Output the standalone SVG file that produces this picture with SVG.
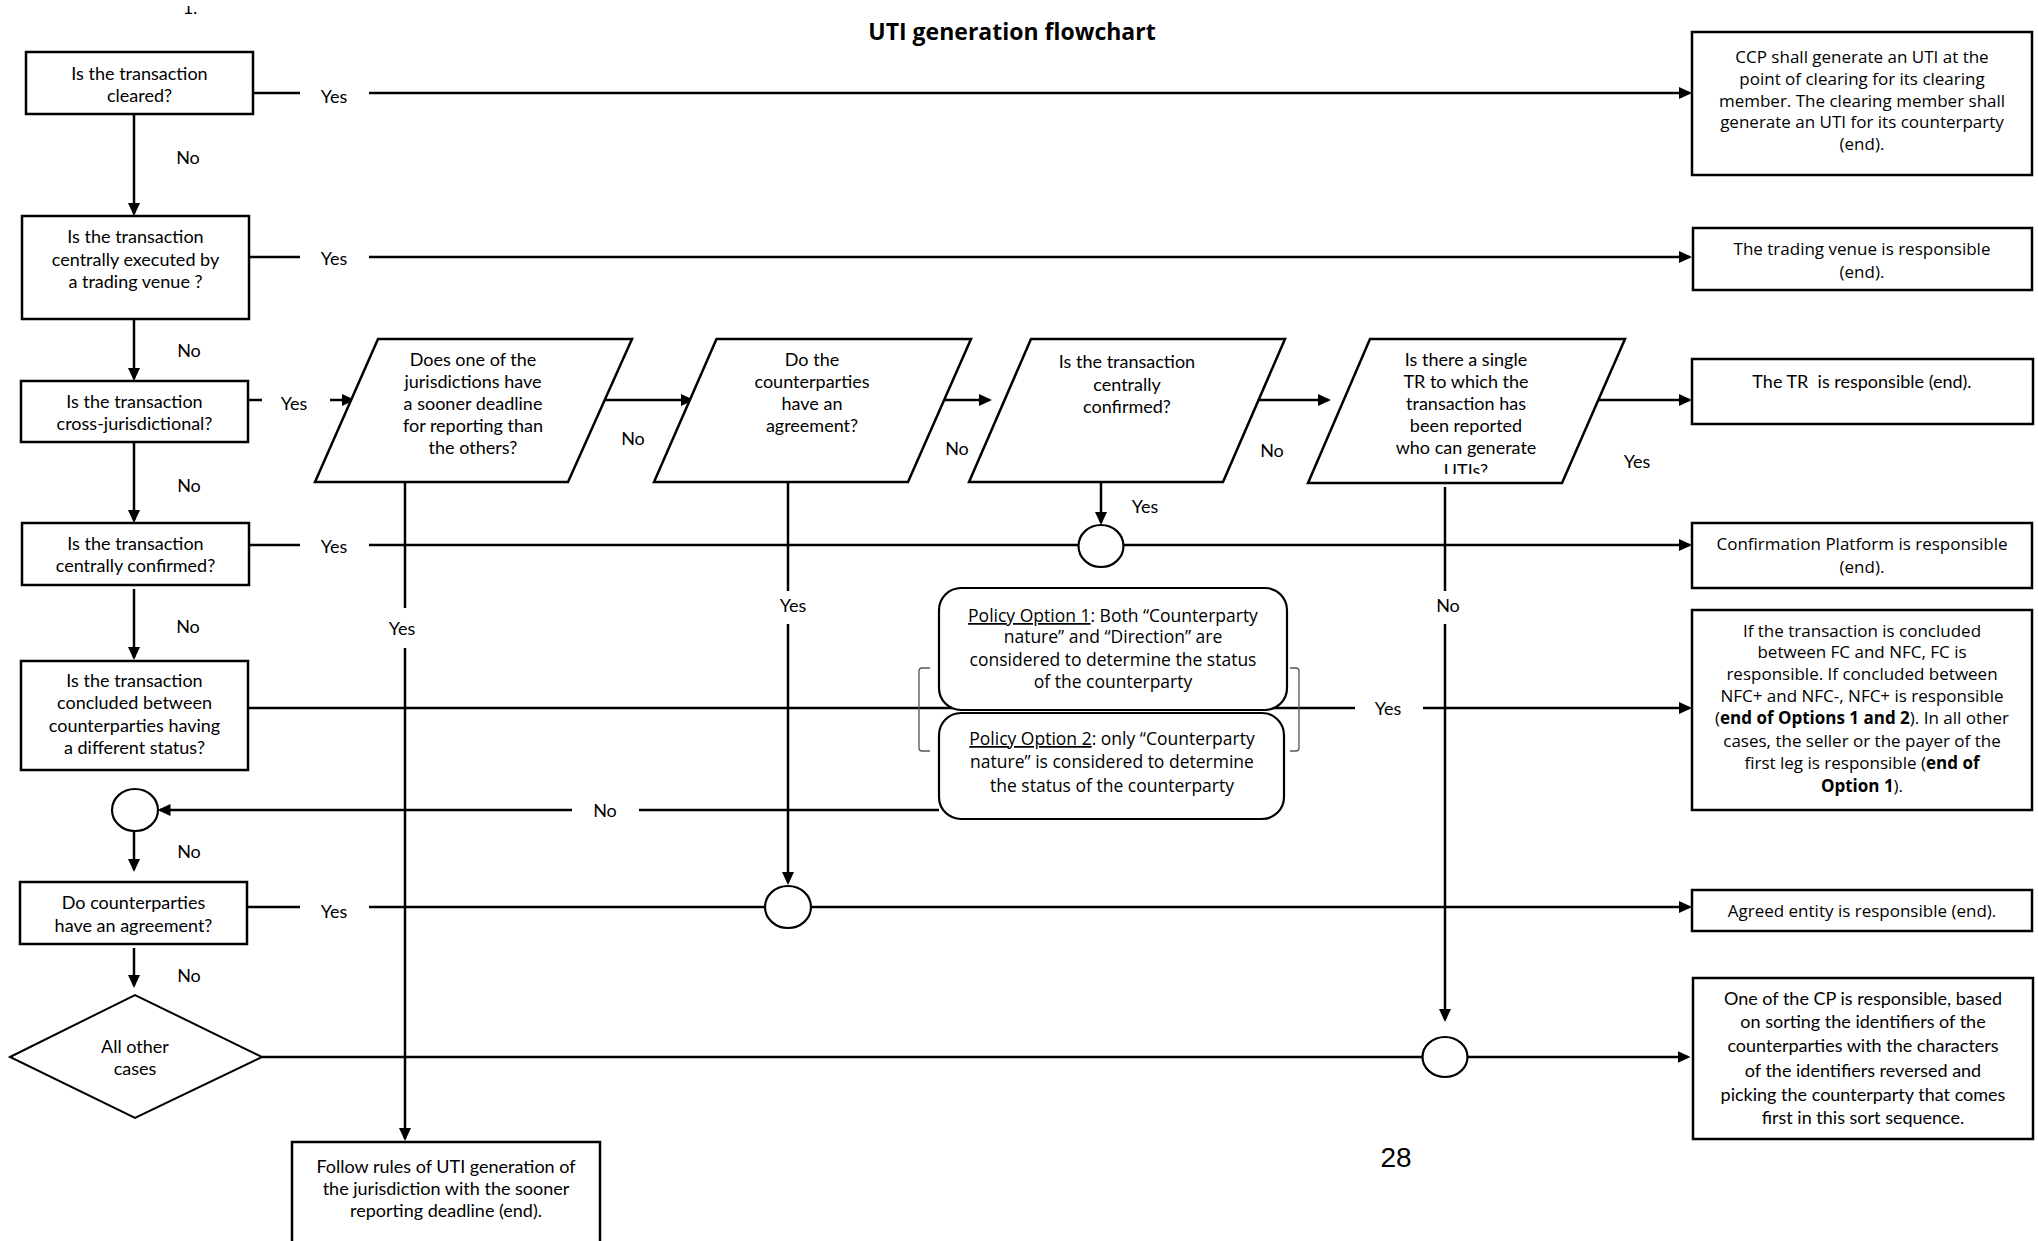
<svg xmlns="http://www.w3.org/2000/svg" width="2038" height="1241" viewBox="0 0 2038 1241">
<style>
.bx{fill:#fff;stroke:#000;stroke-width:2.5}
.cj{fill:#fff;stroke:#000;stroke-width:2.2}
.ln{fill:none;stroke:#000;stroke-width:2.5}
.ar{fill:none;stroke:#000;stroke-width:2.5;marker-end:url(#ah)}
.br{fill:none;stroke:#555;stroke-width:1.3}
.t{font-family:Lato,"Liberation Sans",sans-serif;font-size:18px;fill:#000;text-anchor:middle}
.o{font-family:"Open Sans","Liberation Sans",sans-serif;font-size:17px;fill:#000;text-anchor:middle}
.p{font-family:"Open Sans","Liberation Sans",sans-serif;font-size:17.5px;fill:#000;text-anchor:middle}
.b{font-weight:bold}
.u{text-decoration:underline}
</style>
<defs>
<marker id="ah" markerUnits="userSpaceOnUse" markerWidth="14" markerHeight="12" refX="10.5" refY="6" orient="auto">
<path d="M0,0 L13,6 L0,12 z" fill="#000"/>
</marker>
<clipPath id="cp4"><rect x="1300" y="330" width="340" height="144"/></clipPath>
<clipPath id="cptop"><rect x="150" y="6" width="80" height="20"/></clipPath>
</defs>
<rect width="2038" height="1241" fill="#fff"/>
<text class="t" x="190" y="14" clip-path="url(#cptop)">1.</text>
<text x="1012" y="40" font-family="'Open Sans','Liberation Sans',sans-serif" font-size="23" font-weight="bold" text-anchor="middle">UTI generation flowchart</text>

<g id="connectors">
<path class="ln" d="M253,93 H300"/>
<path class="ar" d="M369,93 H1689.5"/>
<path class="ln" d="M249,257 H300"/>
<path class="ar" d="M369,257 H1689.5"/>
<path class="ar" d="M134,114 V213.5"/>
<path class="ar" d="M134,319 V378.5"/>
<path class="ar" d="M134,442 V520.5"/>
<path class="ar" d="M134,589 V657.5"/>
<path class="ln" d="M248,400 H262"/>
<path class="ar" d="M330,400 H352.5"/>
<path class="ar" d="M605,400 H691.5"/>
<path class="ar" d="M945,400 H989.5"/>
<path class="ar" d="M1259,400 H1328.5"/>
<path class="ar" d="M1599,400 H1689.5"/>
<path class="ln" d="M249,545 H300 M369,545 H1078.5"/>
<path class="ar" d="M1123.5,545 H1689.5"/>
<path class="ar" d="M1101,482 V522.5"/>
<path class="ln" d="M248,708 H1355"/>
<path class="ar" d="M1423,708 H1689.5"/>
<path class="ln" d="M939,810 H639"/>
<path class="ar" d="M572,810 H160"/>
<path class="ar" d="M134,831 V869.5"/>
<path class="ln" d="M247,907 H300 M369,907 H765.5"/>
<path class="ar" d="M811.5,907 H1689.5"/>
<path class="ar" d="M134,948 V985.5"/>
<path class="ln" d="M262,1057 H1422"/>
<path class="ar" d="M1467,1057 H1688"/>
<path class="ln" d="M405,482 V608"/>
<path class="ar" d="M405,648 V1138.5"/>
<path class="ln" d="M788,482 V591"/>
<path class="ar" d="M788,624 V882.5"/>
<path class="ln" d="M1445,487 V591"/>
<path class="ar" d="M1445,624 V1019.5"/>
<text class="t" x="334" y="103">Yes</text>
<text class="t" x="334" y="265">Yes</text>
<text class="t" x="294" y="410">Yes</text>
<text class="t" x="334" y="553">Yes</text>
<text class="t" x="1388" y="715">Yes</text>
<text class="t" x="334" y="918">Yes</text>
<text class="t" x="188" y="164">No</text>
<text class="t" x="189" y="357">No</text>
<text class="t" x="189" y="492">No</text>
<text class="t" x="188" y="633">No</text>
<text class="t" x="189" y="858">No</text>
<text class="t" x="189" y="982">No</text>
<text class="t" x="633" y="445">No</text>
<text class="t" x="957" y="455">No</text>
<text class="t" x="1272" y="457">No</text>
<text class="t" x="1637" y="468">Yes</text>
<text class="t" x="1145" y="513">Yes</text>
<text class="t" x="402" y="635">Yes</text>
<text class="t" x="793" y="612">Yes</text>
<text class="t" x="1448" y="612">No</text>
<text class="t" x="605" y="817">No</text>
</g>

<g id="q-cleared">
<rect class="bx" x="26" y="52" width="227" height="62"/>
<text class="t" x="139.5" y="80">Is the transaction</text>
<text class="t" x="139.5" y="102">cleared?</text>
</g>
<g id="q-venue">
<rect class="bx" x="22" y="216" width="227" height="103"/>
<text class="t" x="135.5" y="243">Is the transaction</text>
<text class="t" x="135.5" y="266">centrally executed by</text>
<text class="t" x="135.5" y="288">a trading venue ?</text>
</g>
<g id="q-cross">
<rect class="bx" x="21" y="381" width="227" height="61"/>
<text class="t" x="134.5" y="408">Is the transaction</text>
<text class="t" x="134.5" y="430">cross-jurisdictional?</text>
</g>
<g id="q-confirmed">
<rect class="bx" x="22" y="523" width="227" height="62"/>
<text class="t" x="135.5" y="550">Is the transaction</text>
<text class="t" x="135.5" y="572">centrally confirmed?</text>
</g>
<g id="q-status">
<rect class="bx" x="21" y="661" width="227" height="109"/>
<text class="t" x="134.5" y="687">Is the transaction</text>
<text class="t" x="134.5" y="709">concluded between</text>
<text class="t" x="134.5" y="732">counterparties having</text>
<text class="t" x="134.5" y="754">a different status?</text>
</g>
<g id="j-left"><ellipse class="cj" cx="135" cy="810" rx="23" ry="21"/></g>
<g id="q-agreement">
<rect class="bx" x="20" y="882" width="227" height="62"/>
<text class="t" x="133.5" y="909">Do counterparties</text>
<text class="t" x="133.5" y="932">have an agreement?</text>
</g>
<g id="q-other">
<polygon points="10,1057 135,995 262,1057 135,1118" fill="#fff" stroke="#000" stroke-width="2"/>
<text class="t" x="135" y="1053">All other</text>
<text class="t" x="135" y="1075">cases</text>
</g>

<g id="p-deadline">
<polygon class="bx" points="378,339 632,339 568,482 315,482"/>
<text class="t" x="473" y="366">Does one of the</text>
<text class="t" x="473" y="388">jurisdictions have</text>
<text class="t" x="473" y="410">a sooner deadline</text>
<text class="t" x="473" y="432">for reporting than</text>
<text class="t" x="473" y="454">the others?</text>
</g>
<g id="p-agreement">
<polygon class="bx" points="716.5,339 971,339 908,482 654,482"/>
<text class="t" x="812" y="366">Do the</text>
<text class="t" x="812" y="388">counterparties</text>
<text class="t" x="812" y="410">have an</text>
<text class="t" x="812" y="432">agreement?</text>
</g>
<g id="p-confirmed">
<polygon class="bx" points="1031,339 1285,339 1223,482 969,482"/>
<text class="t" x="1127" y="368">Is the transaction</text>
<text class="t" x="1127" y="391">centrally</text>
<text class="t" x="1127" y="413">confirmed?</text>
</g>
<g id="p-tr">
<polygon class="bx" points="1370,339 1625,339 1562,483 1308,483"/>
<g clip-path="url(#cp4)">
<text class="t" x="1466" y="366">Is there a single</text>
<text class="t" x="1466" y="388">TR to which the</text>
<text class="t" x="1466" y="410">transaction has</text>
<text class="t" x="1466" y="432">been reported</text>
<text class="t" x="1466" y="454">who can generate</text>
<text class="t" x="1466" y="477">UTIs?</text>
</g>
</g>

<g id="j-confirm"><ellipse class="cj" cx="1101" cy="546" rx="22.5" ry="21"/></g>
<g id="j-agree"><ellipse class="cj" cx="788" cy="907" rx="23" ry="21"/></g>
<g id="j-other"><ellipse class="cj" cx="1445" cy="1057" rx="22.5" ry="20"/></g>

<g id="policy">
<path class="br" d="M930,668 H922 Q919,668 919,671 V748 Q919,751 922,751 H930"/>
<path class="br" d="M1290,668 H1296 Q1299,668 1299,671 V748 Q1299,751 1296,751 H1290"/>
<rect x="939" y="588" width="348" height="122" rx="22" fill="#fff" stroke="#000" stroke-width="2.2"/>
<text class="p" x="1113" y="622"><tspan class="u">Policy Option 1</tspan>: Both “Counterparty</text>
<text class="p" x="1113" y="643">nature” and “Direction” are</text>
<text class="p" x="1113" y="666">considered to determine the status</text>
<text class="p" x="1113" y="688">of the counterparty</text>
<rect x="939" y="713" width="345" height="106" rx="22" fill="#fff" stroke="#000" stroke-width="2.2"/>
<text class="p" x="1112" y="745"><tspan class="u">Policy Option 2</tspan>: only “Counterparty</text>
<text class="p" x="1112" y="768">nature” is considered to determine</text>
<text class="p" x="1112" y="792">the status of the counterparty</text>
</g>

<g id="r-ccp">
<rect class="bx" x="1692" y="32" width="340" height="143"/>
<text class="o" x="1862" y="63">CCP shall generate an UTI at the</text>
<text class="o" x="1862" y="85">point of clearing for its clearing</text>
<text class="o" x="1862" y="107">member. The clearing member shall</text>
<text class="o" x="1862" y="128">generate an UTI for its counterparty</text>
<text class="o" x="1862" y="150">(end).</text>
</g>
<g id="r-venue">
<rect class="bx" x="1693" y="228" width="339" height="62"/>
<text class="o" x="1862" y="255">The trading venue is responsible</text>
<text class="o" x="1862" y="278">(end).</text>
</g>
<g id="r-tr">
<rect class="bx" x="1692" y="359" width="341" height="65"/>
<text class="t" x="1862" y="388" xml:space="preserve">The TR  is responsible (end).</text>
</g>
<g id="r-platform">
<rect class="bx" x="1692" y="523" width="340" height="65"/>
<text class="o" x="1862" y="550">Confirmation Platform is responsible</text>
<text class="o" x="1862" y="573">(end).</text>
</g>
<g id="r-status">
<rect class="bx" x="1692" y="610" width="340" height="200"/>
<text class="o" x="1862" y="637">If the transaction is concluded</text>
<text class="o" x="1862" y="658">between FC and NFC, FC is</text>
<text class="o" x="1862" y="680">responsible. If concluded between</text>
<text class="o" x="1862" y="702">NFC+ and NFC-, NFC+ is responsible</text>
<text class="o" x="1862" y="724">(<tspan class="b">end of Options 1 and 2</tspan>). In all other</text>
<text class="o" x="1862" y="747">cases, the seller or the payer of the</text>
<text class="o" x="1862" y="769">first leg is responsible (<tspan class="b">end of</tspan></text>
<text class="o" x="1862" y="792"><tspan class="b">Option 1</tspan>).</text>
</g>
<g id="r-agreed">
<rect class="bx" x="1692" y="890" width="340" height="41"/>
<text class="o" x="1862" y="917">Agreed entity is responsible (end).</text>
</g>
<g id="r-cp">
<rect class="bx" x="1693" y="978" width="340" height="161"/>
<text class="t" x="1863" y="1005">One of the CP is responsible, based</text>
<text class="t" x="1863" y="1028">on sorting the identifiers of the</text>
<text class="t" x="1863" y="1052">counterparties with the characters</text>
<text class="t" x="1863" y="1077">of the identifiers reversed and</text>
<text class="t" x="1863" y="1101">picking the counterparty that comes</text>
<text class="t" x="1863" y="1124">first in this sort sequence.</text>
</g>
<g id="r-follow">
<rect class="bx" x="292" y="1142" width="308" height="120"/>
<text class="t" x="446" y="1173">Follow rules of UTI generation of</text>
<text class="t" x="446" y="1195">the jurisdiction with the sooner</text>
<text class="t" x="446" y="1217">reporting deadline (end).</text>
</g>
<text x="1396" y="1167" font-family="'Liberation Sans',Arial,sans-serif" font-size="28" text-anchor="middle">28</text>
</svg>
